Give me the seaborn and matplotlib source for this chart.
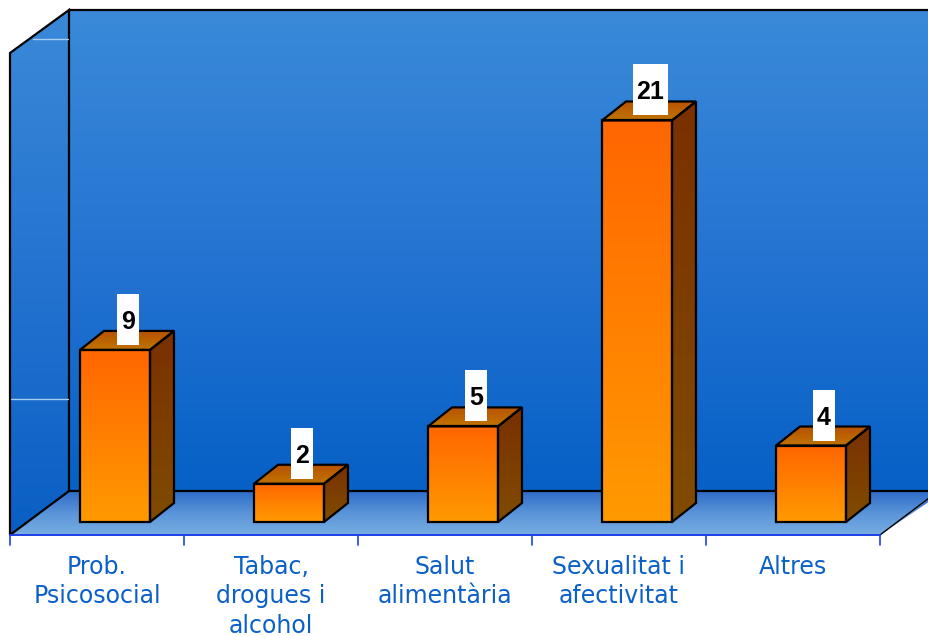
import numpy as np
import matplotlib
matplotlib.use("Agg")
import matplotlib.pyplot as plt
from matplotlib.colors import LinearSegmentedColormap
from matplotlib.patches import Polygon, Rectangle
import seaborn as sns

# data
categories = ["Prob.\nPsicosocial", "Tabac,\ndrogues i\nalcohol", "Salut\nalimentària",
              "Sexualitat i\nafectivitat", "Altres"]
values = [9, 2, 5, 21, 4]
value_labels = ["9", "2", "5", "21", "4"]

sns.set_theme(style="white")
plt.rcParams['font.family'] = ['DejaVu Sans']

fig = plt.figure(figsize=(9.29, 6.36), dpi=100)
ax = fig.add_axes([0, 0, 1, 1])

# front plane scale (pixels)
STEP = 174.0
UNIT = 19.12
X0, Y0 = 115.0, 522.0
DX, DY = 24 / STEP, 19 / UNIT      # bar depth
SHIFT = 18 / STEP                  # bars sit a bit back from the floor front


def px(x, y):
    return ((x - X0) / STEP, (Y0 - y) / UNIT)


def grad_fill(pts, colors, zorder, clip=None):
    pts = np.array(pts)
    if clip is None:
        clip = Polygon(pts, closed=True, facecolor='none', edgecolor='none')
        ax.add_patch(clip)
    cmap = LinearSegmentedColormap.from_list('g', colors)
    im = ax.imshow(np.linspace(0, 1, 256)[:, None], cmap=cmap, aspect='auto',
                   extent=[pts[:, 0].min(), pts[:, 0].max(), pts[:, 1].min(), pts[:, 1].max()],
                   zorder=zorder, interpolation='bilinear')
    im.set_clip_path(clip)


# walls and floor
left_wall = [px(10, 535), px(10, 53), px(69, 10), px(69, 491)]
back_wall = [px(69, 491), px(69, 10), px(945, 10), px(945, 491)]
floor = [px(10, 535), px(69, 491), px(945, 491), px(880, 535)]
grad_fill(back_wall, ['#3a8ad9', '#2574d2', '#0660c6'], 1)
grad_fill(left_wall, ['#3a89d8', '#2473d0', '#0a5fc4'], 1)
grad_fill(floor, ['#2e6cc8', '#5a94d8', '#78aee4'], 1)

lw = 1.6
ax.add_patch(Polygon(left_wall, closed=True, fill=False, edgecolor='black', lw=lw, zorder=2))
ax.plot(*zip(px(69, 10), px(945, 10)), color='black', lw=lw, zorder=2)
ax.plot(*zip(px(69, 491), px(945, 491)), color='black', lw=lw, zorder=2)
ax.plot(*zip(px(880, 535), px(945, 486)), color='black', lw=1.0, zorder=2)
# light grid lines on the side wall
ax.plot(*zip(px(11, 399), px(68, 399)), color='#a8cdf2', lw=1.0, zorder=2)
ax.plot(*zip(px(33, 39), px(68, 39)), color='#a8cdf2', lw=1.0, zorder=2)

# front edge of the floor with ticks
edge_l = -0.5 - SHIFT
edge_r = len(values) - 0.5 - SHIFT
fy = px(0, 535)[1]
ax.plot([edge_l, edge_r], [fy, fy], color='#1f3fe6', lw=1.4, zorder=3)
for k in range(len(values) + 1):
    xb = k - 0.5 - SHIFT
    ax.plot([xb, xb], [fy, px(0, 545)[1]], color='#1f3fe6', lw=1.2, zorder=3)

# bars
sns.barplot(x=categories, y=values, ax=ax, width=70 / STEP, color='#ff8000',
            edgecolor='black', linewidth=lw, zorder=5)
bars = ax.containers[-1]

for p, lab in zip(bars.patches, value_labels):
    x, w, h = p.get_x(), p.get_width(), p.get_height()
    grad_fill([(x, 0), (x + w, h)], ['#ff6600', '#ff9a00'], 4.9, clip=p)
    p.set_facecolor('none')
    side = [(x + w, 0), (x + w + DX, DY), (x + w + DX, h + DY), (x + w, h)]
    grad_fill(side, ['#7a3000', '#804c00'], 4.9)
    ax.add_patch(Polygon(side, closed=True, fill=False, edgecolor='black', lw=lw, zorder=5))
    top = [(x, h), (x + w, h), (x + w + DX, h + DY), (x + DX, h + DY)]
    grad_fill(top, ['#b85200', '#c07400'], 4.9)
    ax.add_patch(Polygon(top, closed=True, fill=False, edgecolor='black', lw=lw, zorder=5))

    # white value tag
    bw = (len(lab) * 13.5 + 8) / STEP
    bh = 51 / UNIT
    cx = x + w / 2 + 13 / STEP
    b0 = h + 5 / UNIT
    ax.add_patch(Rectangle((cx - bw / 2, b0), bw, bh, facecolor='white', edgecolor='none', zorder=8))
    ax.text(cx, b0 + bh / 2, lab, ha='center', va='center_baseline', fontsize=18,
            fontweight='bold', family=['Liberation Sans', 'DejaVu Sans'], color='black', zorder=9)

# category labels
ly = px(0, 555)[1]
for i, cat in enumerate(categories):
    ax.text(i - SHIFT, ly, cat, ha='center', va='top', fontsize=17, color='#0b60c8',
            linespacing=1.28, zorder=6)

ax.set_xlim(px(0, 0)[0], px(929, 0)[0])
ax.set_ylim(px(0, 636)[1], px(0, 0)[1])
ax.set_axis_off()

fig.savefig("out.png", dpi=100)
